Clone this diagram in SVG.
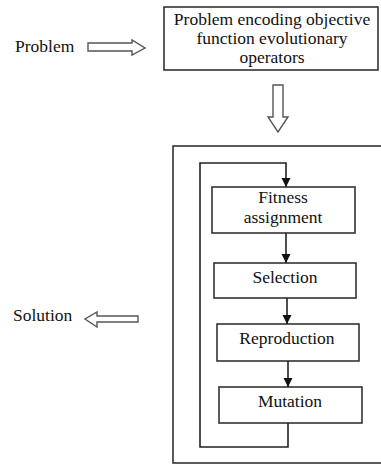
<svg xmlns="http://www.w3.org/2000/svg" width="381" height="464" viewBox="0 0 381 464">
<defs>
<style>
.box{fill:#fff;stroke:#333;stroke-width:1.6}
.ln{fill:none;stroke:#222;stroke-width:1.6}
.hol{fill:#fff;stroke:#555;stroke-width:1.4;stroke-linejoin:miter}
text{font-family:"Liberation Serif","Times New Roman",serif;font-size:17.5px;fill:#111;text-anchor:middle}
.l{text-anchor:start}
</style>
<marker id="ah" markerWidth="10" markerHeight="10" refX="9" refY="5" orient="auto" markerUnits="userSpaceOnUse">
<path d="M0,0.5 L9,5 L0,9.5 Z" fill="#111"/>
</marker>
</defs>
<rect width="381" height="464" fill="#fff"/>
<g id="problem-label"><text class="l" x="15" y="52">Problem</text></g>
<g id="solution-label"><text class="l" x="13" y="321">Solution</text></g>
<g id="encoding">
<rect class="box" x="164" y="7" width="214" height="63"/>
<text x="272" y="25">Problem encoding objective</text>
<text x="272" y="44">function evolutionary</text>
<text x="272" y="63">operators</text>
</g>
<g id="outer">
<rect class="box" x="173" y="146" width="212" height="317"/>
</g>
<g id="fitness">
<rect class="box" x="212" y="187" width="143" height="46"/>
<text x="283" y="203">Fitness</text>
<text x="283" y="223">assignment</text>
</g>
<g id="selection">
<rect class="box" x="214" y="263" width="142" height="35"/>
<text x="285" y="283">Selection</text>
</g>
<g id="reproduction">
<rect class="box" x="217" y="324" width="142" height="37"/>
<text x="287" y="344">Reproduction</text>
</g>
<g id="mutation">
<rect class="box" x="219" y="387" width="143" height="36"/>
<text x="290" y="407">Mutation</text>
</g>
<g id="connectors">
<path class="hol" d="M88,43 L132,43 L132,40 L145,48 L132,55 L132,51 L88,51 Z"/>
<path class="hol" d="M273,85 L283,85 L283,117 L288,117 L278,132 L268,117 L273,117 Z"/>
<path class="hol" d="M138,316 L97,316 L97,312 L85,319 L97,327 L97,322 L138,322 Z"/>
<path class="ln" d="M288,423 L288,447 L200,447 L200,163 L286,163 L286,187" marker-end="url(#ah)"/>
<path class="ln" d="M286,233 L286,263" marker-end="url(#ah)"/>
<path class="ln" d="M287,298 L287,324" marker-end="url(#ah)"/>
<path class="ln" d="M288,361 L288,387" marker-end="url(#ah)"/>
</g>
</svg>
